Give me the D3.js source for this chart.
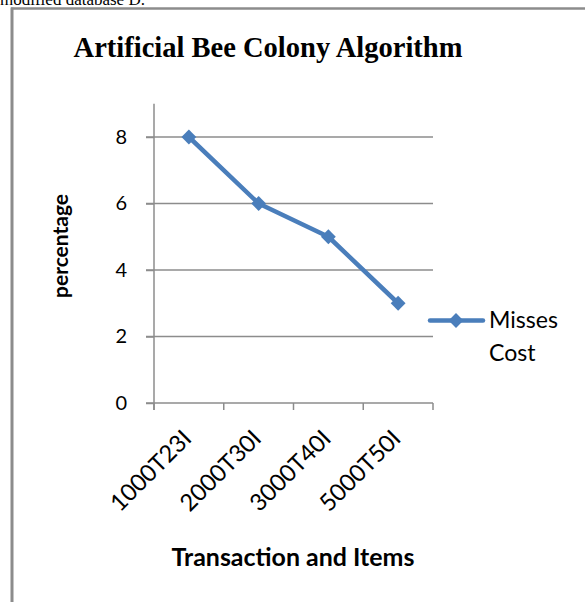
<!DOCTYPE html>
<html>
<head>
<meta charset="utf-8">
<script src="https://cdn.jsdelivr.net/npm/d3@7"></script>
<style>
  html, body { margin: 0; padding: 0; background: #fff; }
  svg { display: block; }
</style>
</head>
<body>
<svg id="chart" width="585" height="602"></svg>
<script>
// Data
const categories = ["1000T23I", "2000T30I", "3000T40I", "5000T50I"];
const missesCost = [8, 6, 5, 3];
const yTicks = [0, 2, 4, 6, 8];
const seriesName = ["Misses", "Cost"];

const svg = d3.select("#chart");
const blue = "#4a7ebb";
const grid = "#8c8c8c";
const sans = "Lato, 'Open Sans', sans-serif";
const serif = "'Liberation Serif', 'Times New Roman', serif";

// Scale a text's font size so that its rendered width equals `w`
function fitWidth(sel, w) {
  sel.each(function () {
    const fs = parseFloat(this.getAttribute("font-size"));
    const len = this.getComputedTextLength();
    if (len > 0) this.setAttribute("font-size", (fs * w / len).toFixed(2));
  });
  return sel;
}

// Caption line above the frame (partially clipped by the page top)
svg.append("text")
  .attr("x", 0).attr("y", 5)
  .attr("font-family", serif).attr("font-size", 17)
  .text("modified database D.");

// Chart frame (top and left edges visible)
svg.append("line").attr("x1", 11).attr("x2", 585).attr("y1", 8.5).attr("y2", 8.5)
  .attr("stroke", grid).attr("stroke-width", 2.5);
svg.append("line").attr("x1", 12).attr("x2", 12).attr("y1", 7.5).attr("y2", 602)
  .attr("stroke", grid).attr("stroke-width", 3);

// Title
fitWidth(svg.append("text")
  .attr("x", 268).attr("y", 57)
  .attr("text-anchor", "middle")
  .attr("font-family", serif).attr("font-weight", "bold").attr("font-size", 28)
  .text("Artificial Bee Colony Algorithm"), 389);

// Scales
const x = d3.scaleBand().domain(categories).range([154, 433]).padding(0);
const y = d3.scaleLinear().domain([0, 9]).range([403, 103.75]);

// Gridlines
svg.append("g")
  .selectAll("line")
  .data(yTicks.filter(d => d > 0))
  .join("line")
  .attr("x1", 146).attr("x2", 433)
  .attr("y1", d => y(d)).attr("y2", d => y(d))
  .attr("stroke", grid).attr("stroke-width", 1.5);

// Y axis
const yAxis = svg.append("g")
  .attr("transform", "translate(154,0)")
  .call(d3.axisLeft(y).tickValues(yTicks).tickSize(8).tickPadding(19).tickFormat(d3.format("d")));
yAxis.select(".domain").attr("stroke", grid).attr("stroke-width", 1.5).attr("d", `M0,${y(9)}V${y(0) + 7}`);
yAxis.selectAll(".tick line").attr("stroke", grid).attr("stroke-width", 1.5);
yAxis.selectAll(".tick text")
  .attr("font-family", sans).attr("font-size", 20).attr("fill", "#000");

// X axis: ticks on category boundaries, labels rotated at category centres
const xAxis = svg.append("g").attr("transform", `translate(0,${y(0)})`);
xAxis.append("line").attr("x1", 146).attr("x2", 433).attr("y1", 0).attr("y2", 0)
  .attr("stroke", grid).attr("stroke-width", 1.5);
const bounds = categories.map(c => x(c)).concat([x(categories[categories.length - 1]) + x.bandwidth()]);
xAxis.selectAll("line.tk").data(bounds).join("line").attr("class", "tk")
  .attr("x1", d => d).attr("x2", d => d).attr("y1", 0).attr("y2", 7)
  .attr("stroke", grid).attr("stroke-width", 1.5);
fitWidth(xAxis.selectAll("text").data(categories).join("text")
  .attr("transform", d => `translate(${x(d) + x.bandwidth() / 2 + 4},${37}) rotate(-45)`)
  .attr("text-anchor", "end")
  .attr("font-family", sans).attr("font-size", 20)
  .text(d => d), 103);

// Axis titles
fitWidth(svg.append("text")
  .attr("transform", "translate(68,246) rotate(-90)")
  .attr("text-anchor", "middle")
  .attr("font-family", "Lato, sans-serif").attr("font-weight", "bold").attr("font-size", 18)
  .text("percentage"), 104);
fitWidth(svg.append("text")
  .attr("x", 293).attr("y", 566)
  .attr("text-anchor", "middle")
  .attr("font-family", sans).attr("font-weight", "bold").attr("font-size", 22)
  .text("Transaction and Items"), 243);

// Series line
const pts = categories.map((c, i) => [x(c) + x.bandwidth() / 2, y(missesCost[i])]);
svg.append("path")
  .attr("d", d3.line()(pts))
  .attr("fill", "none").attr("stroke", blue).attr("stroke-width", 4.5)
  .attr("stroke-linejoin", "round");

const diamond = d3.symbol().type(d3.symbolDiamond2).size(140);
svg.append("g").selectAll("path").data(pts).join("path")
  .attr("transform", d => `translate(${d[0]},${d[1]})`)
  .attr("d", diamond).attr("fill", blue);

// Legend
const lg = svg.append("g");
lg.append("line").attr("x1", 430).attr("x2", 483).attr("y1", 320.5).attr("y2", 320.5)
  .attr("stroke", blue).attr("stroke-width", 4.5).attr("stroke-linecap", "round");
lg.append("path").attr("transform", "translate(456,320.5)").attr("d", diamond).attr("fill", blue);
const lgText = lg.selectAll("text").data(seriesName).join("text")
  .attr("x", 489).attr("y", (d, i) => 328 + i * 33)
  .attr("font-family", sans).attr("font-size", 21)
  .text(d => d);
fitWidth(lgText.filter((d, i) => i === 0), 69);
lgText.filter((d, i) => i === 1).attr("font-size", lgText.filter((d, i) => i === 0).attr("font-size"));
</script>
</body>
</html>
